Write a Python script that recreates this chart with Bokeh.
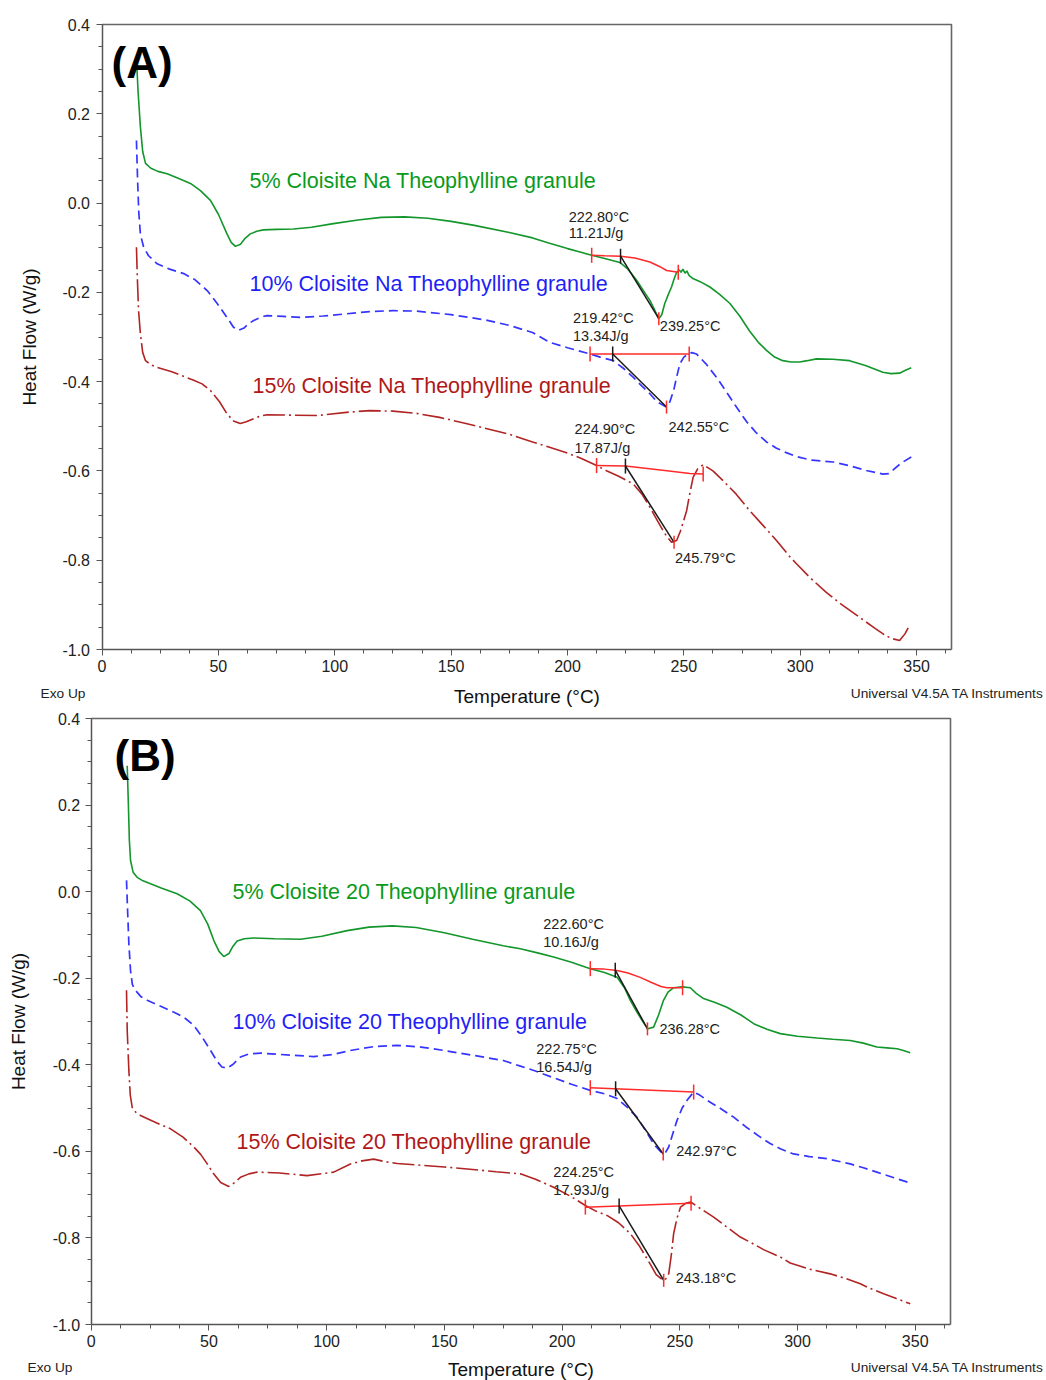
import numpy as np
from bokeh.plotting import figure
from bokeh.layouts import column
from bokeh.models import Range1d, FixedTicker, PrintfTickFormatter, Label, ColumnDataSource
from bokeh.core.properties import value
from bokeh.embed import file_html
from bokeh.resources import INLINE

FONT = "Liberation Sans"

# ---------------- axis limits and ticks ----------------
T_MIN, T_MAX = 0.0, 365.0
HF_MIN, HF_MAX = -1.0, 0.4
x_major = [0, 50, 100, 150, 200, 250, 300, 350]
x_minor = [12.5, 25, 37.5, 62.5, 75, 87.5, 112.5, 125, 137.5, 162.5, 175, 187.5,
           212.5, 225, 237.5, 262.5, 275, 287.5, 312.5, 325, 337.5, 362.5]
y_major = [-1.0, -0.8, -0.6, -0.4, -0.2, 0.0, 0.2, 0.4]
y_minor = [-0.95, -0.9, -0.85, -0.75, -0.7, -0.65, -0.55, -0.5, -0.45, -0.35, -0.3, -0.25,
           -0.15, -0.1, -0.05, 0.05, 0.1, 0.15, 0.25, 0.3, 0.35]

# ---------------- Panel A: Cloisite Na ----------------
a5_T = [15.0, 15.5, 16.5, 17.5, 18.7, 21, 24, 28, 33, 38, 42.3, 46.6, 50, 53.7, 55.5, 57.3, 59.5,
        61.5, 63.7, 66.5, 69.3, 75, 82.3, 90, 99.4, 110, 120, 130, 140, 150, 160, 175, 185, 192.3,
        200, 205, 210.4, 216, 222.5, 226, 229.7, 232.5, 235.4, 237.5, 239.2, 240.5, 241.8, 243.3,
        244.7, 245.8, 246.9, 248, 248.8, 249.6, 250.5, 251.3, 252.2, 253.9, 257, 261.2, 265.5,
        269.8, 274, 278.3, 282, 285.5, 289, 292.5, 296, 299.8, 303, 307, 314, 321.2, 328, 335.5,
        339, 342.7, 345, 347.7]
a5_HF = [0.304, 0.25, 0.17, 0.115, 0.089, 0.078, 0.071, 0.0655, 0.055, 0.044, 0.028, 0.006, -0.025,
         -0.069, -0.088, -0.097, -0.092, -0.079, -0.069, -0.063, -0.06, -0.059, -0.058, -0.054,
         -0.046, -0.038, -0.032, -0.031, -0.034, -0.041, -0.05, -0.066, -0.078, -0.09, -0.102,
         -0.109, -0.117, -0.124, -0.133, -0.148, -0.173, -0.195, -0.218, -0.24, -0.259, -0.25,
         -0.225, -0.205, -0.188, -0.17, -0.155, -0.15, -0.155, -0.148, -0.157, -0.152, -0.162,
         -0.169, -0.176, -0.188, -0.205, -0.225, -0.253, -0.287, -0.312, -0.33, -0.345, -0.353,
         -0.356, -0.356, -0.353, -0.349, -0.35, -0.353, -0.364, -0.379, -0.382, -0.381, -0.375,
         -0.369]

a10_T = [14.8, 15.3, 15.8, 16.5, 17.9, 20, 23.7, 29, 35.1, 40, 45.2, 49.5, 53.7, 56.5, 58.7, 61,
         63, 65.2, 68, 70.9, 78, 85.2, 95, 105.2, 115, 125, 135, 150, 165, 175, 185, 192.3, 200,
         209.7, 214, 219.7, 224, 228.2, 232, 235.4, 238.5, 242.5, 244, 245.6, 246.9, 248.3, 250,
         251.8, 253.5, 255.4, 259.5, 264, 268.3, 272.6, 277, 281.2, 285.5, 289.8, 294, 298.4,
         305, 314.1, 321, 328.4, 335.5, 338, 339.8, 343.5, 347.7]
a10_HF = [0.14, 0.05, -0.02, -0.07, -0.099, -0.118, -0.136, -0.148, -0.158, -0.172, -0.196,
          -0.225, -0.256, -0.278, -0.285, -0.28, -0.27, -0.263, -0.256, -0.252, -0.254, -0.256,
          -0.253, -0.248, -0.243, -0.241, -0.242, -0.25, -0.262, -0.274, -0.29, -0.312, -0.324,
          -0.338, -0.345, -0.353, -0.37, -0.39, -0.41, -0.427, -0.445, -0.457, -0.445, -0.42,
          -0.39, -0.36, -0.345, -0.338, -0.335, -0.338, -0.36, -0.39, -0.423, -0.457, -0.49,
          -0.515, -0.535, -0.549, -0.559, -0.568, -0.576, -0.58, -0.588, -0.599, -0.607, -0.606,
          -0.598, -0.582, -0.569]

a15_T = [14.8, 15.2, 15.7, 16.5, 17.5, 18.7, 21, 23.7, 30, 39.4, 43, 46.6, 50.5, 53.7, 56.5, 59.4,
         62, 65.2, 68, 70.9, 80, 92.4, 106.7, 115, 125, 135, 145, 155, 165, 175, 185, 192.3, 200,
         206, 212.5, 217, 222, 228.2, 232, 235.4, 238.5, 241.5, 244.7, 246.9, 248.5, 250, 251.2,
         252.5, 254, 256, 258.3, 262.5, 266.9, 272.5, 278.3, 284, 289.8, 295.5, 298.4, 304,
         311.2, 318, 325.5, 332, 337, 339.8, 342.7, 345, 347]
a15_HF = [-0.099, -0.17, -0.24, -0.293, -0.335, -0.353, -0.362, -0.368, -0.378, -0.397, -0.405,
          -0.42, -0.445, -0.472, -0.488, -0.494, -0.49, -0.483, -0.477, -0.474, -0.475, -0.476,
          -0.468, -0.465, -0.466, -0.471, -0.48, -0.492, -0.505, -0.518, -0.535, -0.547, -0.56,
          -0.572, -0.588, -0.6, -0.612, -0.629, -0.652, -0.681, -0.71, -0.738, -0.76, -0.756,
          -0.735, -0.71, -0.689, -0.652, -0.614, -0.595, -0.586, -0.6, -0.622, -0.652, -0.689,
          -0.722, -0.756, -0.792, -0.808, -0.838, -0.872, -0.9, -0.928, -0.952, -0.97, -0.976,
          -0.98, -0.965, -0.946]

A_names = ["5% Cloisite Na Theophylline granule", "10% Cloisite Na Theophylline granule",
           "15% Cloisite Na Theophylline granule"]
A_onset = [222.80, 219.42, 224.90]
A_enthalpy = [11.21, 13.34, 17.87]
A_peak = [239.25, 242.55, 245.79]
A_peak_hf = [-0.259, -0.457, -0.760]
A_base_T = [[210.4, 216, 222.8, 229, 235.4, 239.5, 242.6, 247.6],
            [209.7, 252.3],
            [212.5, 224.9, 240, 252.6, 258.3]]
A_base_HF = [[-0.117, -0.118, -0.119, -0.123, -0.132, -0.142, -0.151, -0.155],
             [-0.338, -0.338],
             [-0.588, -0.589, -0.598, -0.606, -0.607]]

# ---------------- Panel B: Cloisite 20 ----------------
b5_T = [15.3, 15.8, 16.2, 16.7, 17.8, 19.5, 22, 25.2, 30, 36.5, 42, 46.4, 49.5, 52.1, 54.3, 56.3,
        58.5, 60, 62, 65, 69, 78, 88.9, 98, 108.7, 118, 128, 138, 150, 162, 175, 182.3, 190, 196.4,
        204, 212, 218, 223.4, 226.5, 229, 232, 234.5, 236.5, 238.9, 241, 243.1, 245, 247.4, 251,
        254.5, 257, 260.1, 265, 270, 276, 281.4, 287, 292.7, 300, 308.3, 315, 322.4, 328, 333.7,
        338, 342.3, 345, 347.9]
b5_HF = [0.291, 0.2, 0.12, 0.072, 0.045, 0.033, 0.025, 0.018, 0.008, -0.005, -0.022, -0.044,
         -0.075, -0.113, -0.138, -0.15, -0.143, -0.128, -0.114, -0.109, -0.107, -0.109, -0.11,
         -0.103, -0.09, -0.082, -0.079, -0.083, -0.095, -0.11, -0.125, -0.132, -0.142, -0.151,
         -0.163, -0.178, -0.187, -0.198, -0.222, -0.251, -0.28, -0.302, -0.317, -0.313, -0.285,
         -0.251, -0.232, -0.222, -0.22, -0.222, -0.235, -0.247, -0.256, -0.267, -0.285, -0.305,
         -0.318, -0.328, -0.334, -0.338, -0.341, -0.344, -0.35, -0.359, -0.361, -0.363, -0.367,
         -0.372]

b10_T = [15.0, 15.5, 16, 16.7, 17.5, 18.8, 21, 23.8, 30, 36.5, 40, 43.6, 47, 50.7, 53.5, 55.5,
         57.7, 60, 63.4, 67, 71.9, 80, 94.5, 103, 110.1, 120, 130, 140, 150, 162, 175, 182.3, 189,
         196.4, 204, 212, 218, 223.4, 227.5, 231.8, 235.5, 239, 242.8, 244, 245.3, 247, 248.8,
         251, 253.1, 255.9, 258.5, 261.6, 267, 272.9, 278, 284.2, 288.4, 292.7, 298.3, 305,
         312.5, 322.4, 328, 333.7, 341, 347.9]
b10_HF = [0.026, -0.05, -0.12, -0.182, -0.215, -0.228, -0.242, -0.251, -0.266, -0.282, -0.293,
          -0.309, -0.335, -0.367, -0.392, -0.405, -0.408, -0.4, -0.382, -0.375, -0.373, -0.376,
          -0.381, -0.376, -0.367, -0.358, -0.355, -0.359, -0.367, -0.378, -0.39, -0.403, -0.415,
          -0.43, -0.445, -0.459, -0.467, -0.478, -0.497, -0.521, -0.552, -0.584, -0.606, -0.602,
          -0.59, -0.56, -0.529, -0.5, -0.482, -0.463, -0.47, -0.482, -0.5, -0.521, -0.543,
          -0.567, -0.582, -0.594, -0.606, -0.612, -0.617, -0.629, -0.638, -0.648, -0.661, -0.673]

b15_T = [15.0, 15.3, 16, 16.6, 17.4, 19, 20.9, 26, 33.7, 39, 43.6, 46.5, 49.3, 52, 55, 58.4, 61,
         63.4, 67, 70.5, 80, 91.7, 103, 110.1, 115, 120, 125, 130, 140, 150, 162, 172, 182.3, 189,
         196.4, 204, 209.9, 214, 219.1, 224, 229, 233, 237.4, 240, 243, 244.2, 245.3, 246.4,
         247.4, 248.8, 250.3, 252.5, 254.6, 259, 264.4, 270, 275.7, 280, 285.6, 292.7, 296.9,
         305, 313.9, 320, 326.7, 331, 336.6, 342, 347.9]
b15_HF = [-0.228, -0.321, -0.413, -0.47, -0.498, -0.51, -0.517, -0.53, -0.548, -0.567, -0.59,
          -0.607, -0.629, -0.652, -0.672, -0.681, -0.672, -0.66, -0.652, -0.648, -0.65, -0.656,
          -0.648, -0.629, -0.622, -0.618, -0.624, -0.628, -0.632, -0.636, -0.642, -0.647, -0.652,
          -0.665, -0.683, -0.705, -0.725, -0.737, -0.748, -0.765, -0.79, -0.82, -0.86, -0.885,
          -0.898, -0.894, -0.883, -0.84, -0.79, -0.755, -0.729, -0.72, -0.717, -0.733, -0.752,
          -0.775, -0.798, -0.81, -0.827, -0.844, -0.858, -0.872, -0.883, -0.893, -0.906, -0.917,
          -0.929, -0.94, -0.952]

B_names = ["5% Cloisite 20 Theophylline granule", "10% Cloisite 20 Theophylline granule",
           "15% Cloisite 20 Theophylline granule"]
B_onset = [222.60, 222.75, 224.25]
B_enthalpy = [10.16, 16.54, 17.93]
B_peak = [236.28, 242.97, 243.18]
B_peak_hf = [-0.317, -0.606, -0.898]
B_base_T = [[212, 218, 223.4, 228, 233.2, 238, 242, 244.6, 251.2],
            [212, 255.9],
            [209.9, 254.8]]
B_base_HF = [[-0.178, -0.179, -0.182, -0.188, -0.198, -0.21, -0.219, -0.222, -0.222],
             [-0.453, -0.463],
             [-0.729, -0.72]]

# ---------------- styles ----------------
LINE_COLORS = ["#13962b", "#3535ff", "#b02424"]
TEXT_COLORS = ["#0a9a1c", "#1f1ff5", "#b01818"]
DASHES = ["solid", "9 5", "22 4 2 4"]
LINE_W = [1.6, 1.7, 1.6]
ANN_RED = "#ff2a2a"
ANN_BLACK = "#1a1a1a"
AXIS_COL = "#555555"


def build(panel, curves, names, onset, enth, peak, peak_hf, base_T, base_HF,
          height, box, name_px, onset_off, peak_off, panel_px, foot_px,
          xlab_standoff, ylab_standoff, ylabel_std):
    # box: frame pixel box (left, top, right, bottom) of the axes inside a full-canvas frame
    L, T, R, B = box
    W = 1046
    sx = (R - L) / (T_MAX - T_MIN)
    sy = (B - T) / (HF_MAX - HF_MIN)
    x0 = T_MIN - L / sx
    x1 = x0 + W / sx
    y1 = HF_MAX + T / sy
    y0 = y1 - height / sy

    def dx(px):
        return x0 + px / sx

    def dy(py):
        return y1 - py / sy

    p = figure(width=W, height=height, x_range=Range1d(x0, x1), y_range=Range1d(y0, y1),
               output_backend="svg", toolbar_location=None,
               min_border_left=0, min_border_right=0, min_border_top=0, min_border_bottom=0)
    p.title.visible = False
    p.background_fill_color = "white"
    p.border_fill_color = "white"
    p.outline_line_color = None
    p.xgrid.visible = False
    p.ygrid.visible = False

    xa = p.xaxis[0]
    ya = p.yaxis[0]
    xa.fixed_location = HF_MIN
    xa.bounds = (T_MIN, T_MAX)
    ya.fixed_location = T_MIN
    ya.bounds = (HF_MIN, HF_MAX)
    xa.ticker = FixedTicker(ticks=x_major, minor_ticks=x_minor)
    ya.ticker = FixedTicker(ticks=y_major, minor_ticks=y_minor)
    ya.formatter = PrintfTickFormatter(format="%.1f")
    xa.axis_label = "Temperature (°C)"
    ya.axis_label = "Heat Flow (W/g)"
    for ax in (xa, ya):
        ax.axis_line_color = AXIS_COL
        ax.axis_line_width = 1.5
        ax.major_tick_line_color = AXIS_COL
        ax.minor_tick_line_color = AXIS_COL
        ax.major_tick_out = 6
        ax.major_tick_in = 0
        ax.minor_tick_out = 4
        ax.minor_tick_in = 0
        ax.major_label_text_font = FONT
        ax.major_label_text_font_size = "16px"
        ax.major_label_text_color = "#222222"
        ax.axis_label_text_font = FONT
        ax.axis_label_text_font_style = "normal"
        ax.axis_label_text_font_size = "19px"
        ax.axis_label_text_color = "#111111"
    xa.major_label_standoff = 4
    xa.axis_label_standoff = xlab_standoff
    ya.major_label_standoff = ylabel_std
    ya.axis_label_standoff = ylab_standoff

    # top and right edges of the plot box
    p.line([T_MIN, T_MAX, T_MAX], [HF_MAX, HF_MAX, HF_MIN], line_color="#666666", line_width=1.6)

    # curves
    for i, (Tc, HFc) in enumerate(curves):
        p.line(Tc, HFc, line_color=LINE_COLORS[i], line_width=LINE_W[i], line_dash=DASHES[i])

    # series labels
    src = ColumnDataSource(dict(x=[dx(q[0]) for q in name_px], y=[dy(q[1]) for q in name_px],
                                text=names, color=TEXT_COLORS))
    p.text(x="x", y="y", text="text", text_color="color", source=src,
           text_font=value(FONT), text_font_size="21.5px", text_baseline="middle",
           text_align="left")

    # DSC annotations
    for i in range(3):
        bT, bH = base_T[i], base_HF[i]
        on_hf = float(np.interp(onset[i], bT, bH))
        p.line(bT, bH, line_color=ANN_RED, line_width=1.5)
        p.scatter([bT[0], bT[-1]], [bH[0], bH[-1]], marker="dash", angle=np.pi / 2, size=15,
                  line_color=ANN_RED, line_width=1.5)
        p.line([onset[i], peak[i]], [on_hf, peak_hf[i]], line_color=ANN_BLACK, line_width=1.5)
        p.scatter([onset[i]], [on_hf], marker="dash", angle=np.pi / 2, size=15,
                  line_color=ANN_BLACK, line_width=1.5)
        p.scatter([peak[i]], [peak_hf[i]], marker="dash", angle=np.pi / 2, size=13,
                  line_color=ANN_RED, line_width=1.5)
        ox, oy1, oy2 = onset_off[i]
        p.text(x=[bT[0]], y=[bH[0]], text=[f"{onset[i]:.2f}°C"], x_offset=ox, y_offset=oy1,
               text_font=value(FONT), text_font_size="14.5px", text_color="#222222",
               text_baseline="middle", text_align="left")
        p.text(x=[bT[0]], y=[bH[0]], text=[f"{enth[i]:.2f}J/g"], x_offset=ox, y_offset=oy2,
               text_font=value(FONT), text_font_size="14.5px", text_color="#222222",
               text_baseline="middle", text_align="left")
        pdx, pdy = peak_off[i]
        p.text(x=[peak[i]], y=[peak_hf[i]], text=[f"{peak[i]:.2f}°C"], x_offset=pdx, y_offset=pdy,
               text_font=value(FONT), text_font_size="14.5px", text_color="#222222",
               text_baseline="middle", text_align="left")

    p.add_layout(Label(x=dx(panel_px[0]), y=dy(panel_px[1]), text=panel, text_font=FONT,
                       text_font_size="44px", text_font_style="bold", text_color="black",
                       text_baseline="middle", text_align="left"))
    p.text(x=[dx(foot_px[0])], y=[dy(foot_px[2])], text=["Exo Up"], text_font=value(FONT),
           text_font_size="13.7px", text_color="#222222", text_baseline="middle",
           text_align="left")
    p.text(x=[dx(foot_px[1])], y=[dy(foot_px[2])], text=["Universal V4.5A TA Instruments"],
           text_font=value(FONT), text_font_size="13.7px", text_color="#222222",
           text_baseline="middle", text_align="right")
    return p


pA = build("(A)", [(a5_T, a5_HF), (a10_T, a10_HF), (a15_T, a15_HF)], A_names,
           A_onset, A_enthalpy, A_peak, A_peak_hf, A_base_T, A_base_HF,
           height=708, box=(101.5, 24, 951, 649),
           name_px=[(249, 180), (249, 283), (252, 385)],
           onset_off=[(-23, -38, -22), (-17, -36, -18), (-22, -37, -18)],
           peak_off=[(1, 7), (2, 20), (1, 16)],
           panel_px=(111, 62), foot_px=(40, 1044, 693),
           xlab_standoff=11, ylab_standoff=20, ylabel_std=6)

pB = build("(B)", [(b5_T, b5_HF), (b10_T, b10_HF), (b15_T, b15_HF)], B_names,
           B_onset, B_enthalpy, B_peak, B_peak_hf, B_base_T, B_base_HF,
           height=672, box=(90.7, 10, 950, 616),
           name_px=[(232, 183), (232, 313), (236, 433)],
           onset_off=[(-47, -45, -27), (-54, -39, -21), (-32, -35, -17)],
           peak_off=[(12, 0), (13, -3), (12, -2)],
           panel_px=(114, 47), foot_px=(27, 1044, 659),
           xlab_standoff=9, ylab_standoff=21, ylabel_std=5)

layout = column(pA, pB, spacing=0)
open("out.html", "w").write(file_html(layout, INLINE))
